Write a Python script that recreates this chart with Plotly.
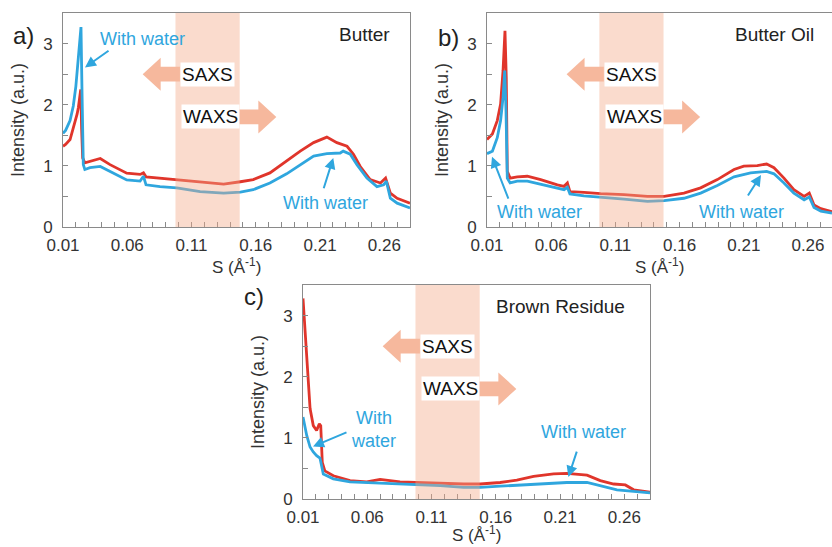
import plotly.graph_objects as go

# ---------------- scattering profiles: S (1/Å) vs intensity (a.u.) ----------------
# (a) Butter
butter_s = [0.010, 0.012, 0.0155, 0.019, 0.021, 0.022, 0.023, 0.0238, 0.0245, 0.0253, 0.027, 0.031,
            0.039, 0.0466, 0.0596, 0.070, 0.0726, 0.0746, 0.0855, 0.0985, 0.1167, 0.135, 0.148,
            0.158, 0.171, 0.184, 0.1946, 0.205, 0.2153, 0.2231, 0.231, 0.236, 0.2413, 0.249,
            0.257, 0.261, 0.2647, 0.270, 0.280]
butter_i = [1.32, 1.35, 1.43, 1.68, 1.85, 1.96, 2.10, 2.25, 1.60, 1.13, 1.05, 1.07,
            1.12, 1.02, 0.88, 0.86, 0.885, 0.82, 0.80, 0.775, 0.74, 0.70, 0.74,
            0.775, 0.885, 1.08, 1.24, 1.38, 1.47, 1.38, 1.32, 1.19, 0.99, 0.775,
            0.72, 0.80, 0.555, 0.47, 0.39]
butter_w_s = [0.010, 0.012, 0.0155, 0.018, 0.020, 0.022, 0.0235, 0.024, 0.0248, 0.0258, 0.027, 0.031,
              0.039, 0.0466, 0.0596, 0.070, 0.0726, 0.0746, 0.0855, 0.0985, 0.1167, 0.135, 0.148,
              0.158, 0.171, 0.184, 0.1946, 0.205, 0.2153, 0.2257, 0.228, 0.2335, 0.2387, 0.2465,
              0.2543, 0.2595, 0.2616, 0.2647, 0.270, 0.280]
butter_w_i = [1.53, 1.58, 1.74, 1.98, 2.30, 2.73, 3.10, 3.27, 2.20, 1.02, 0.94, 0.97,
              0.99, 0.91, 0.77, 0.75, 0.83, 0.69, 0.66, 0.64, 0.58, 0.555, 0.57,
              0.61, 0.72, 0.87, 1.02, 1.16, 1.20, 1.21, 1.24, 1.19, 1.02, 0.80,
              0.66, 0.69, 0.75, 0.47, 0.39, 0.31]

# (b) Butter oil
oil_s = [0.010, 0.0142, 0.018, 0.0206, 0.0225, 0.024, 0.025, 0.0258, 0.028, 0.0336, 0.0414,
         0.0518, 0.0648, 0.070, 0.0726, 0.0746, 0.0855, 0.0985, 0.1167, 0.135, 0.148, 0.1634,
         0.1764, 0.1894, 0.2024, 0.210, 0.2205, 0.2278, 0.2335, 0.2413, 0.249, 0.257, 0.261,
         0.2647, 0.270, 0.2787]
oil_i = [1.43, 1.52, 1.74, 2.01, 2.56, 3.21, 2.45, 0.91, 0.80, 0.82, 0.83,
         0.775, 0.69, 0.665, 0.72, 0.58, 0.565, 0.545, 0.53, 0.50, 0.50, 0.555,
         0.64, 0.775, 0.94, 0.995, 1.005, 1.03, 0.97, 0.80, 0.61, 0.50, 0.555,
         0.36, 0.30, 0.25]
oil_w_s = [0.010, 0.0142, 0.018, 0.0206, 0.0225, 0.0238, 0.0248, 0.0258, 0.028, 0.0336, 0.0414,
           0.0518, 0.0648, 0.070, 0.0726, 0.0746, 0.0855, 0.0985, 0.1167, 0.135, 0.148, 0.1634,
           0.1764, 0.1894, 0.2024, 0.2153, 0.2278, 0.2335, 0.2413, 0.249, 0.257, 0.261,
           0.2647, 0.270, 0.2787]
oil_w_i = [1.20, 1.24, 1.46, 1.74, 2.12, 2.56, 1.90, 0.80, 0.72, 0.75, 0.75,
           0.70, 0.64, 0.61, 0.65, 0.54, 0.51, 0.49, 0.456, 0.42, 0.43, 0.47,
           0.555, 0.68, 0.82, 0.885, 0.91, 0.87, 0.72, 0.555, 0.445, 0.49,
           0.32, 0.26, 0.225]

# (c) Brown residue
res_s = [0.010, 0.0116, 0.0134, 0.0155, 0.018, 0.0206, 0.0227, 0.0238, 0.025, 0.027, 0.0336,
         0.0466, 0.0596, 0.070, 0.0855, 0.0985, 0.1167, 0.135, 0.148, 0.1634, 0.1764, 0.1894,
         0.205, 0.2153, 0.231, 0.2413, 0.2517, 0.2608, 0.2673, 0.280]
res_i = [3.28, 2.73, 2.02, 1.48, 1.20, 1.12, 1.23, 1.20, 0.60, 0.46, 0.38,
         0.30, 0.28, 0.32, 0.28, 0.27, 0.26, 0.245, 0.245, 0.27, 0.31, 0.37,
         0.41, 0.42, 0.39, 0.30, 0.245, 0.23, 0.15, 0.11]
res_w_s = [0.010, 0.0129, 0.0155, 0.018, 0.0206, 0.0232, 0.0258, 0.0336, 0.0466, 0.0726, 0.0985,
           0.1167, 0.135, 0.148, 0.1634, 0.1894, 0.2153, 0.231, 0.2413, 0.2543, 0.2673, 0.280]
res_w_i = [1.34, 1.04, 0.85, 0.77, 0.71, 0.67, 0.41, 0.33, 0.28, 0.26, 0.245,
           0.22, 0.19, 0.19, 0.21, 0.245, 0.27, 0.27, 0.22, 0.15, 0.125, 0.10]

# SAXS / WAXS overlap window
band_lo, band_hi = 0.0975, 0.1475

panel_titles = ["Butter", "Butter Oil", "Brown Residue"]
panel_tags = ["a)", "b)", "c)"]
tick_vals = [0.01, 0.06, 0.11, 0.16, 0.21, 0.26]
tick_text = ["0.01", "0.06", "0.11", "0.16", "0.21", "0.26"]

RED = "#e0352b"
BLUE = "#2fa6de"
BAND = "rgba(244,170,135,0.42)"
ARROW = "#f6b89d"
AXC = "#8a8a8a"
FONT = "Liberation Sans, Arial, sans-serif"

W, H = 832, 547
# plot areas in pixels: left, right, top, bottom
boxes = [(63, 410, 13, 227), (487, 832, 13, 227), (303, 650, 285, 499)]
x_ranges = [[0.01, 0.28], [0.01, 0.2787], [0.01, 0.28]]
xtitle_shift = [-39, -39, -35]

fig = go.Figure()
series = [(butter_s, butter_i, butter_w_s, butter_w_i),
          (oil_s, oil_i, oil_w_s, oil_w_i),
          (res_s, res_i, res_w_s, res_w_i)]

for k, (s1, i1, s2, i2) in enumerate(series):
    sfx = "" if k == 0 else str(k + 1)
    fig.add_trace(go.Scatter(x=s1, y=i1, mode="lines", line=dict(color=RED, width=2.8),
                             xaxis="x" + sfx, yaxis="y" + sfx, showlegend=False))
    fig.add_trace(go.Scatter(x=s2, y=i2, mode="lines", line=dict(color=BLUE, width=2.8),
                             xaxis="x" + sfx, yaxis="y" + sfx, showlegend=False))

layout = dict(width=W, height=H, margin=dict(l=0, r=0, t=0, b=0, autoexpand=False),
              paper_bgcolor="white", plot_bgcolor="white",
              font=dict(family=FONT, color="#333"), showlegend=False)

shapes = []
annotations = []


def block_arrow(tip, base, tail, yc, head_h, shaft_h, xr, yr):
    p = (f"M {tip},{yc} L {base},{yc + head_h} L {base},{yc + shaft_h} L {tail},{yc + shaft_h} "
         f"L {tail},{yc - shaft_h} L {base},{yc - shaft_h} L {base},{yc - head_h} Z")
    return dict(type="path", path=p, xref=xr, yref=yr, fillcolor=ARROW,
                line=dict(width=0), layer="above")


for k in range(3):
    sfx = "" if k == 0 else str(k + 1)
    xr, yr = "x" + sfx, "y" + sfx
    l, r, t, b = boxes[k]
    xa = dict(domain=[l / W, r / W], range=x_ranges[k], anchor=yr, automargin=False,
              tickvals=tick_vals, ticktext=tick_text, ticks="inside", ticklen=5,
              tickcolor=AXC, showline=True, linecolor=AXC, linewidth=1, mirror=True,
              showgrid=False, zeroline=False, tickfont=dict(size=17, color="#333"),
              ticklabelstandoff=3,
              minor=dict(dtick=0.01, tick0=0.01, ticks="inside", ticklen=5, tickcolor=AXC))
    ya = dict(domain=[1 - b / H, 1 - t / H], range=[0, 3.5], anchor=xr, automargin=False,
              tick0=0, dtick=1, ticks="inside", ticklen=5, tickcolor=AXC,
              showline=True, linecolor=AXC, linewidth=1, mirror=(k != 1),
              showgrid=False, zeroline=False, tickfont=dict(size=17, color="#333"),
              ticklabelstandoff=6,
              minor=dict(dtick=0.5, ticks="inside", ticklen=5, tickcolor=AXC))
    layout["xaxis" + sfx] = xa
    layout["yaxis" + sfx] = ya

    # overlap band
    shapes.append(dict(type="rect", xref=xr, yref=yr + " domain", x0=band_lo, x1=band_hi,
                       y0=0, y1=1, fillcolor=BAND, line=dict(width=0), layer="above"))
    # SAXS (left) and WAXS (right) block arrows
    shapes.append(block_arrow(0.072, 0.086, 0.101, 2.5, 0.27, 0.12, xr, yr))
    shapes.append(block_arrow(0.176, 0.162, 0.145, 1.8, 0.27, 0.12, xr, yr))

    annotations.append(dict(text="SAXS", x=0.1225, y=2.5, xref=xr, yref=yr, showarrow=False,
                            font=dict(size=19, color="#111"), bgcolor="white", borderpad=1))
    annotations.append(dict(text="WAXS", x=0.1245, y=1.8, xref=xr, yref=yr, showarrow=False,
                            font=dict(size=19, color="#111"), bgcolor="white", borderpad=1))
    # sample name
    annotations.append(dict(text=panel_titles[k], x=0.2662 if k < 2 else 0.262,
                            y=3.15, xref=xr, yref=yr, xanchor="right", showarrow=False,
                            font=dict(size=19, color="#222")))
    # axis titles
    annotations.append(dict(text="S (Å<sup>-1</sup>)", xref=xr + " domain", x=0.5,
                            yref=yr + " domain", y=0, yanchor="middle",
                            yshift=xtitle_shift[k],
                            showarrow=False, font=dict(size=17, color="#333")))
    annotations.append(dict(text="Intensity (a.u.)", xref=xr + " domain", x=0,
                            xanchor="center", xshift=-45, yref=yr + " domain", y=0.5,
                            textangle=-90, showarrow=False, font=dict(size=18, color="#333")))

# panel tags
for tag, (px, py) in zip(panel_tags, [(23, 36), (448, 37), (254, 296)]):
    annotations.append(dict(text=tag, x=px / W, y=1 - py / H, xref="paper", yref="paper",
                            xanchor="center", yanchor="middle", showarrow=False,
                            font=dict(size=24, color="#222")))

# "With water" labels and pointers
labels = [
    ("x", "y", "With water", 0.0715, 3.08, (0.0466, 2.90, 0.0271, 2.61)),
    ("x", "y", "With water", 0.214, 0.39, (0.2125, 0.61, 0.2203, 1.13)),
    ("x2", "y2", "With water", 0.0505, 0.25, (0.0271, 0.44, 0.0139, 1.15)),
    ("x2", "y2", "With water", 0.2086, 0.25, (0.2125, 0.49, 0.2234, 0.85)),
    ("x3", "y3", "With<br>water", 0.0645, 1.13, (0.045, 1.10, 0.0178, 0.86)),
    ("x3", "y3", "With water", 0.228, 1.10, (0.2234, 0.80, 0.2165, 0.36)),
]
for xr, yr, txt, tx, ty, (ax, ay, hx, hy) in labels:
    annotations.append(dict(text=txt, x=tx, y=ty, xref=xr, yref=yr, showarrow=False,
                            font=dict(size=18, color=BLUE), align="center"))
    annotations.append(dict(text="", x=hx, y=hy, ax=ax, ay=ay, xref=xr, yref=yr,
                            axref=xr, ayref=yr, showarrow=True, arrowhead=2,
                            arrowsize=1.1, arrowwidth=2, arrowcolor=BLUE))

layout["shapes"] = shapes
layout["annotations"] = annotations
fig.update_layout(**layout)
fig.write_html("out.html")
